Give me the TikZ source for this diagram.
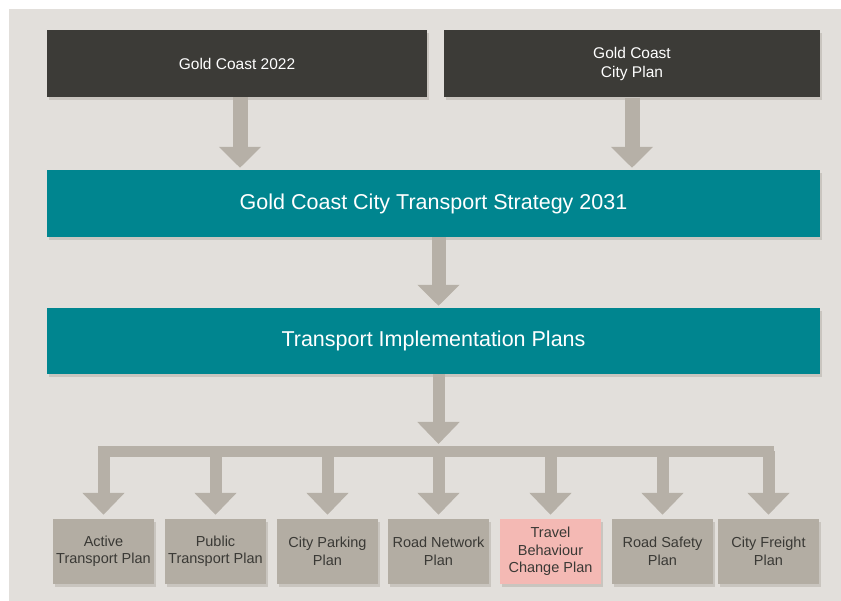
\documentclass[tikz,border=0pt]{standalone}
\usepackage{fontspec}
\setmainfont{Liberation Sans}
\usetikzlibrary{arrows.meta,shadows}
\definecolor{pagebg}{HTML}{E2DFDB}
\definecolor{darkbox}{HTML}{3C3B37}
\definecolor{tealbox}{HTML}{00858F}
\definecolor{planbox}{HTML}{B3ADA3}
\definecolor{pinkbox}{HTML}{F4B9B4}
\definecolor{flowgray}{HTML}{B6B0A7}
\definecolor{plantext}{HTML}{3A3935}
\definecolor{shadowtone}{HTML}{C9C5BF}
\tikzset{
  softshadow/.style={drop shadow={shadow xshift=2pt, shadow yshift=-3pt,
      fill=shadowtone, opacity=1}},
  sourcebox/.style={softshadow, fill=darkbox, text=white, minimum height=67pt,
      align=center, font=\fontsize{15.5}{18.5}\selectfont, inner sep=0pt},
  levelbox/.style={softshadow, fill=tealbox, text=white, minimum width=773pt,
      minimum height=67pt, font=\fontsize{21.5}{26}\selectfont, inner sep=0pt},
  planitem/.style={softshadow, fill=planbox, text=plantext, minimum width=101pt,
      minimum height=65pt, align=center, font=\fontsize{14.5}{17.5}\selectfont,
      inner sep=0pt},
  bigflow/.style={draw=flowgray, line width=15pt,
      -{Triangle[width=41pt,length=21pt]}, shorten >=2pt},
  smallflow/.style={draw=flowgray, line width=12pt,
      -{Triangle[width=41pt,length=22pt]}},
  busline/.style={draw=flowgray, line width=11pt, line cap=rect}
}
\begin{document}
\begin{tikzpicture}[x=1pt,y=1pt]
  \useasboundingbox (0,0) rectangle (841,601);
  \fill[white] (0,0) rectangle (841,601);
  \fill[pagebg] (9,0) rectangle (841,592);

  % sources
  \node[sourcebox, minimum width=380pt] (gc2022) at (237,537.5) {Gold Coast 2022};
  \node[sourcebox, minimum width=376pt] (cityplan) at (632,537) {Gold Coast\\City Plan};

  % strategy levels
  \node[levelbox] (strategy) at (433.5,397.5) {Gold Coast City Transport Strategy 2031};
  \node[levelbox, minimum height=66pt] (tip) at (433.5,260) {Transport Implementation Plans};

  % implementation plans
  \node[planitem] (active)  at (103.5,49.5) {Active\\Transport Plan};
  \node[planitem] (public)  at (215.5,49.5) {Public\\Transport Plan};
  \node[planitem] (parking) at (327.5,49.5) {City Parking\\Plan};
  \node[planitem] (road)    at (438.5,49.5) {Road Network\\Plan};
  \node[planitem, fill=pinkbox] (travel) at (550.5,49.5) {Travel\\Behaviour\\Change Plan};
  \node[planitem] (safety)  at (662.5,49.5) {Road Safety\\Plan};
  \node[planitem] (freight) at (768.5,49.5) {City Freight\\Plan};

  % flows between levels
  \draw[bigflow] ([xshift=3pt]gc2022.south) -- ([xshift=3pt]gc2022.south |- strategy.north);
  \draw[bigflow] (cityplan.south) -- (cityplan.south |- strategy.north);
  \draw[bigflow, line width=14pt] (strategy.south -| road.north) -- (tip.north -| road.north);

  % distribution bus
  \coordinate (bus) at (0,149.5);
  \draw[busline] (active |- bus) -- (freight |- bus);
  \draw[smallflow, shorten >=7.5pt] (tip.south -| road.north) -- (road |- bus);
  \foreach \p in {active,public,parking,road,travel,safety,freight}
    \draw[smallflow, shorten >=4pt] (\p |- bus) -- (\p.north);
\end{tikzpicture}
\end{document}
